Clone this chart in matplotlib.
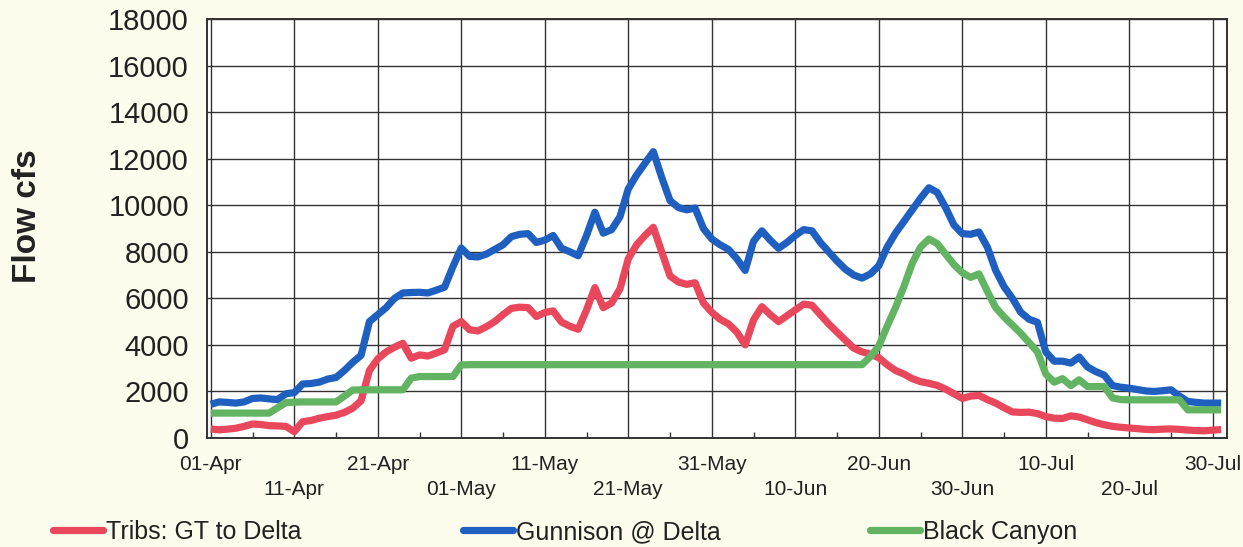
import numpy as np
import matplotlib
matplotlib.use("Agg")
import matplotlib.pyplot as plt
from matplotlib.lines import Line2D
from matplotlib.ticker import MultipleLocator

plt.rcParams['font.family'] = ['Liberation Sans', 'DejaVu Sans']

# ---- data (daily values, 01-Apr .. 31-Jul) ----
tribs_gt_to_delta = [
    390, 350, 380, 420, 500, 600, 580, 530, 520, 500,
    270, 700, 750, 850, 920, 980, 1100, 1280, 1600, 2900,
    3400, 3700, 3900, 4070, 3430, 3570, 3520, 3650, 3790, 4800,
    5000, 4650, 4600, 4780, 5000, 5300, 5570, 5620, 5600, 5220,
    5390, 5460, 4980, 4800, 4670, 5500, 6460, 5600, 5800, 6400,
    7700, 8300, 8700, 9050, 8000, 6960, 6700, 6600, 6670, 5800,
    5400, 5100, 4900, 4550, 4000, 5070, 5640, 5300, 5000, 5250,
    5500, 5750, 5700, 5300, 4900, 4550, 4200, 3860, 3700, 3600,
    3450, 3150, 2900, 2750, 2550, 2420, 2350, 2260, 2100, 1900,
    1700, 1800, 1830, 1650, 1500, 1300, 1120, 1100, 1110, 1050,
    920, 850, 840, 950, 900, 780, 660, 570, 500, 460,
    430, 400, 370, 360, 380, 390, 370, 340, 320, 310,
    340, 360,
]
gunnison_at_delta = [
    1450, 1550, 1530, 1500, 1550, 1700, 1720, 1680, 1650, 1900,
    1950, 2320, 2340, 2400, 2530, 2600, 2900, 3250, 3550, 5000,
    5300, 5600, 6000, 6230, 6250, 6260, 6230, 6350, 6480, 7360,
    8160, 7800, 7780, 7900, 8100, 8300, 8650, 8750, 8780, 8400,
    8500, 8700, 8150, 8000, 7830, 8700, 9700, 8800, 8950, 9500,
    10700, 11300, 11800, 12300, 11200, 10200, 9900, 9800, 9880, 9000,
    8550, 8300, 8100, 7700, 7200, 8450, 8900, 8500, 8150, 8400,
    8700, 8950, 8900, 8400, 8000, 7600, 7250, 7000, 6870, 7050,
    7400, 8200, 8800, 9300, 9800, 10300, 10750, 10550, 9900, 9150,
    8780, 8750, 8850, 8200, 7200, 6500, 6000, 5400, 5100, 4970,
    3700, 3300, 3300, 3220, 3480, 3050, 2850, 2700, 2250, 2180,
    2140, 2080, 2020, 2000, 2030, 2070, 1800, 1570, 1530, 1500,
    1500, 1500,
]
black_canyon = [
    1070, 1070, 1070, 1070, 1070, 1070, 1070, 1070, 1300, 1520,
    1540, 1550, 1550, 1550, 1550, 1550, 1800, 2060, 2070, 2070,
    2070, 2070, 2070, 2070, 2570, 2640, 2640, 2640, 2640, 2640,
    3140, 3150, 3150, 3150, 3150, 3150, 3150, 3150, 3150, 3150,
    3150, 3150, 3150, 3150, 3150, 3150, 3150, 3150, 3150, 3150,
    3150, 3150, 3150, 3150, 3150, 3150, 3150, 3150, 3150, 3150,
    3150, 3150, 3150, 3150, 3150, 3150, 3150, 3150, 3150, 3150,
    3150, 3150, 3150, 3150, 3150, 3150, 3150, 3150, 3150, 3500,
    3950, 4800, 5600, 6500, 7500, 8200, 8550, 8350, 7900, 7450,
    7100, 6900, 7050, 6300, 5600, 5200, 4850, 4500, 4100, 3700,
    2750, 2400, 2550, 2250, 2500, 2210, 2210, 2210, 1720, 1650,
    1640, 1640, 1640, 1640, 1640, 1640, 1640, 1210, 1210, 1210,
    1210, 1210,
]
tick_days = [0, 10, 20, 30, 40, 50, 60, 70, 80, 90, 100, 110, 120]
tick_labels = ['01-Apr', '11-Apr', '21-Apr', '01-May', '11-May', '21-May',
               '31-May', '10-Jun', '20-Jun', '30-Jun', '10-Jul', '20-Jul', '30-Jul']
series_names = ['Tribs: GT to Delta', 'Gunnison @ Delta', 'Black Canyon']
y_ticks = list(range(0, 18001, 2000))

days = np.arange(len(gunnison_at_delta))

# ---- figure ----
W, H = 1243, 547
fig = plt.figure(figsize=(W / 100, H / 100), dpi=100)
fig.patch.set_facecolor('#FEFCEC')
ax = fig.add_axes([207 / W, 1 - 438 / H, (1227 - 207) / W, (438 - 19) / H])
ax.set_facecolor('white')

colors = ['#E8475C', '#1F5FC0', '#62B462']
series = [tribs_gt_to_delta, gunnison_at_delta, black_canyon]
handles = []
for vals, c, name in zip(series, colors, series_names):
    ln, = ax.plot(days, vals, color=c, lw=5.2, solid_joinstyle='round',
                  solid_capstyle='butt', label=name, zorder=3)
    handles.append(ln)

ax.set_xlim(-0.45, 121.7)
ax.set_ylim(0, 18000)
ax.set_yticks(y_ticks)
ax.set_yticklabels([str(v) for v in y_ticks], fontsize=21, color='#222222')
ax.set_xticks(tick_days)
ax.set_xticklabels([lab if i % 2 == 0 else '\n' + lab for i, lab in enumerate(tick_labels)],
                   fontsize=15, color='#222222', linespacing=1.45)
ax.xaxis.set_minor_locator(MultipleLocator(5))
ax.tick_params(axis='y', length=0, pad=13)
ax.tick_params(axis='x', which='major', length=0, pad=12)
ax.tick_params(axis='x', which='minor', direction='in', length=4, width=1, color='#333333')

ax.grid(True, which='major', color='#333333', lw=1.0, zorder=1)
for s in ax.spines.values():
    s.set_color('#333333')
    s.set_linewidth(1.4)

fig.text(27 / W, 1 - 216 / H, 'Flow cfs', rotation=90, ha='center', va='center',
         fontsize=24, fontweight='bold', color='#222222')

# legend entries
starts = [53, 463, 870]
for h, x0 in zip(handles, starts):
    hl = Line2D([], [], color=h.get_color(), lw=5.2, solid_capstyle='round')
    fig.legend(handles=[hl], labels=[h.get_label()], loc='center left',
               bbox_to_anchor=(x0 / W, 1 - 532 / H), frameon=False,
               handlelength=2.0, handletextpad=0.12, borderpad=0, borderaxespad=0,
               fontsize=18, labelcolor='#222222')

fig.savefig('out.png', dpi=100, facecolor=fig.get_facecolor())
